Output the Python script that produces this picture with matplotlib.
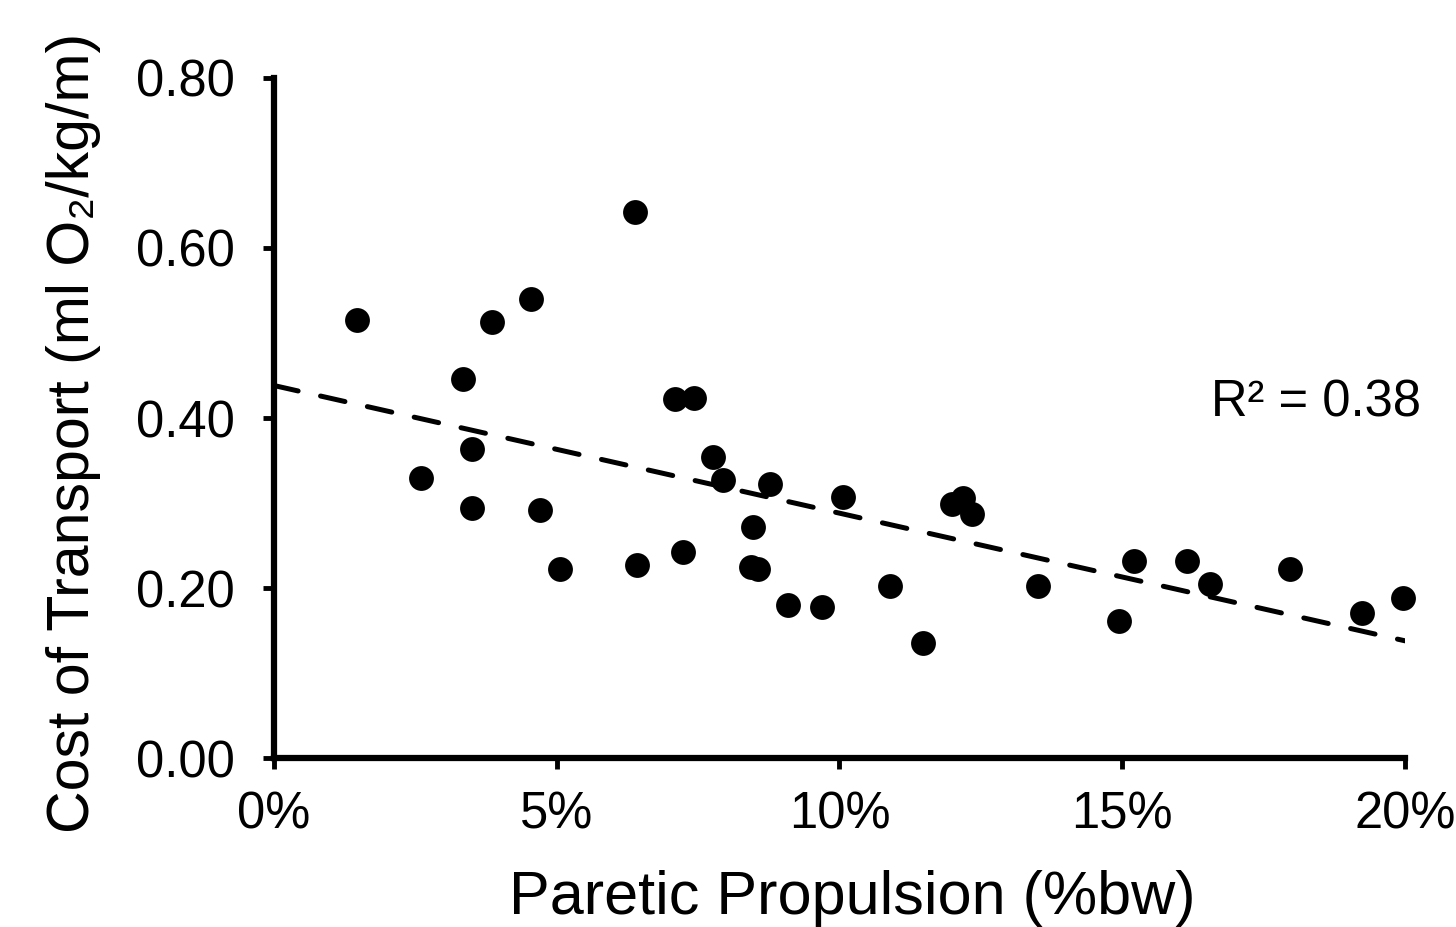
import numpy as np
import matplotlib
matplotlib.use("Agg")
import matplotlib.pyplot as plt
from matplotlib.ticker import FuncFormatter

plt.rcParams['font.family'] = ['Liberation Sans', 'DejaVu Sans']

# paretic propulsion (%bw) and cost of transport
propulsion = [1.47, 2.6, 3.34, 3.5, 3.5, 3.85, 4.54, 4.70, 5.06, 6.38, 6.42, 7.09,
              7.43, 7.23, 7.76, 7.94, 8.47, 8.43, 8.56, 8.77, 9.09, 9.69, 10.06,
              10.89, 11.48, 11.99, 12.18, 12.34, 13.51, 14.94, 15.21, 16.15,
              16.55, 17.97, 19.24, 19.96]
cost = [0.515, 0.329, 0.446, 0.364, 0.294, 0.513, 0.540, 0.292, 0.222, 0.642,
        0.227, 0.422, 0.424, 0.242, 0.354, 0.327, 0.272, 0.225, 0.222, 0.322,
        0.180, 0.178, 0.307, 0.202, 0.135, 0.299, 0.306, 0.287, 0.202, 0.161,
        0.232, 0.232, 0.205, 0.222, 0.171, 0.189]

x = np.array(propulsion)
y = np.array(cost)

fig = plt.figure(figsize=(14.56, 9.27), dpi=100)
ax = fig.add_axes([0.188, 0.182, 0.777, 0.734])

ax.scatter(x, y, s=320, color='black', zorder=3, linewidths=0, clip_on=False)

# linear trend line
slope, inter = np.polyfit(x, y, 1)
xs = np.array([0, 20])
ax.plot(xs, slope * xs + inter, color='black', lw=3.6, ls=(0, (5, 4.6)),
        dash_capstyle='round', zorder=2)
r2 = np.corrcoef(x, y)[0, 1] ** 2
ax.text(18.43, 0.418, 'R² = %.2f' % r2, fontsize=36.5, ha='center', va='center')

ax.set_xlim(0, 20)
ax.set_ylim(0, 0.8)
ax.set_xticks([0, 5, 10, 15, 20])
ax.set_yticks([0, 0.2, 0.4, 0.6, 0.8])
ax.xaxis.set_major_formatter(FuncFormatter(lambda v, p: '%d%%' % v))
ax.yaxis.set_major_formatter(FuncFormatter(lambda v, p: '%.2f' % v))

for s in ['top', 'right']:
    ax.spines[s].set_visible(False)
for s in ['left', 'bottom']:
    ax.spines[s].set_linewidth(4.5)

ax.tick_params(axis='both', width=3.5, length=8, direction='out')
ax.tick_params(axis='x', labelsize=36.5, pad=15)
ax.tick_params(axis='y', labelsize=36.5, pad=20)

ax.set_xlabel('Paretic Propulsion (%bw)', fontsize=44)
ax.xaxis.label.set_va('baseline')
ax.xaxis.set_label_coords(0.511, -0.229)

ax.set_ylabel('Cost of Transport (ml O₂/kg/m)', fontsize=42.5)
ax.yaxis.label.set_va('baseline')
ax.yaxis.set_label_coords(-0.163, 0.478)

fig.savefig('out.png', dpi=100)
